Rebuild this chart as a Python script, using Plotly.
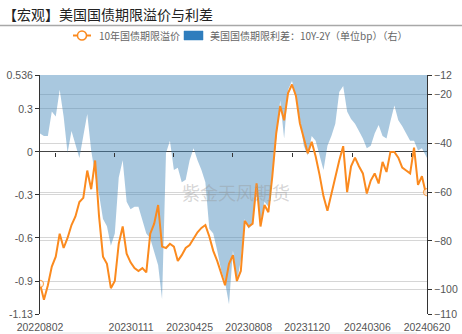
import pandas as pd
import plotly.graph_objects as go

# Weekly observation dates, closing on the last trading day shown
dates = list(pd.date_range("2022-08-02", periods=99, freq="7D").strftime("%Y-%m-%d")) + ["2024-06-20"]

# 10Y US Treasury term premium (%)
term_premium = [
    -0.92, -1.03, -0.93, -0.80, -0.73, -0.57, -0.67, -0.60, -0.51, -0.45,
    -0.35, -0.32, -0.13, -0.26, -0.06, -0.45, -0.73, -0.78, -0.95, -0.90,
    -0.64, -0.52, -0.71, -0.77, -0.81, -0.83, -0.81, -0.84, -0.57, -0.50,
    -0.37, -0.66, -0.67, -0.64, -0.66, -0.76, -0.72, -0.67, -0.65, -0.60,
    -0.56, -0.53, -0.51, -0.59, -0.69, -0.76, -0.85, -0.93, -0.78, -0.72,
    -0.90, -0.83, -0.48, -0.52, -0.50, -0.22, -0.52, -0.37, -0.42, -0.17,
    0.13, 0.32, 0.22, 0.41, 0.47, 0.39, 0.20, 0.10, -0.01, 0.07,
    -0.03, -0.16, -0.31, -0.41, -0.29, -0.17, -0.06, 0.04, -0.28, -0.10,
    -0.04, -0.10, -0.15, -0.29, -0.20, -0.15, -0.22, -0.07, -0.14, 0.00,
    0.00, -0.04, -0.11, -0.13, -0.15, 0.03, -0.23, -0.17, -0.29, -0.28,
]

# US Treasury 10Y-2Y spread (bp)
spread_10y2y = [
    -36, -37, -37, -27, -29, -18, -29, -44, -35, -41,
    -46, -37, -28, -43, -53, -61, -71, -74, -82, -77,
    -54, -47, -64, -67, -66, -66, -72, -77, -79, -85,
    -90, -104, -44, -39, -51, -50, -56, -55, -47, -42,
    -47, -51, -56, -75, -77, -84, -92, -97, -106, -84,
    -97, -88, -71, -75, -73, -59, -73, -64, -66, -54,
    -37, -22.5, -38, -18, -14.5, -21, -30, -41, -45, -37,
    -39, -45.5, -51, -41, -37, -32, -19, -16.5, -27, -30,
    -32, -35, -38, -42, -41, -36, -32.5, -37, -38, -31,
    -24.5, -30.6, -33, -36, -39, -39, -43, -42, -45.5, -46,
]

x_tick_dates = ["2022-08-02", "2023-01-11", "2023-04-25", "2023-08-08",
                "2023-11-20", "2024-03-06", "2024-06-20"]
x_tick_text = ["20220802", "20230111", "20230425", "20230808",
               "20231120", "20240306", "20240620"]
axis_mark_dates = ["2022-08-30", "2022-12-13", "2023-03-28", "2023-07-11",
                   "2023-10-24", "2024-02-08", "2024-05-24"]

left_ticks = [0.536, 0.3, 0, -0.3, -0.6, -0.9, -1.13]
left_tick_text = ["0.536", "0.3", "0", "-0.3", "-0.6", "-0.9", "-1.13"]
right_ticks = [-12, -20, -40, -60, -80, -100, -110]

title_text = "【宏观】美国国债期限溢价与利差"
tp_name = "10年国债期限溢价"
spread_name = "美国国债期限利差：10Y-2Y（单位bp）（右）"
watermark = "紫金天风期货"

FONT = "Noto Sans CJK SC"
NUM_FONT = "Liberation Sans"
ORANGE = "#fb8a1e"
AREA = "rgba(72,138,187,0.47)"
LEGEND_BLUE = "#2f7dbd"
GRID = "#d6d6d6"
AXIS = "#333333"

L_MIN, L_MAX = -1.13, 0.536

# plot-area geometry in pixels
W, H = 462, 334
ML, MR, MT, MB = 40, 35, 75, 20
PW, PH = W - ML - MR, H - MT - MB


def px(x):
    return (x - ML) / PW


def py(y):
    return (H - MB - y) / PH


fig = go.Figure()

# spread area, filled from the series up to the (off-range) zero level
fig.add_trace(go.Scatter(
    x=dates, y=spread_10y2y, xaxis="x", yaxis="y", name=spread_name,
    mode="lines", line=dict(width=0, color=AREA),
    fill="tozeroy", fillcolor=AREA, showlegend=False, hoverinfo="skip",
))

# term premium line, hollow markers on the end points only
n = len(term_premium)
sizes = [7] + [0] * (n - 2) + [7]
fig.add_trace(go.Scatter(
    x=dates, y=term_premium, xaxis="x2", yaxis="y2", name=tp_name,
    mode="lines+markers",
    line=dict(color=ORANGE, width=2),
    marker=dict(size=sizes, color="white", line=dict(color=ORANGE, width=1.3)),
    showlegend=False,
))

y_tick_font = dict(family=NUM_FONT, size=10.5, color="#555555")
x_tick_font = dict(family=NUM_FONT, size=10.5, color="#555555")

# legend row drawn as shapes + text
leg_y = 35.5
shapes = [
    dict(type="line", xref="paper", yref="paper",
         x0=px(0), x1=px(W), y0=py(25.5), y1=py(25.5),
         line=dict(color="#a8a8a8", width=1.5)),
    dict(type="line", xref="paper", yref="paper",
         x0=px(40), x1=px(417), y0=py(333), y1=py(333),
         line=dict(color="#e4e4e4", width=1)),
    dict(type="line", xref="paper", yref="paper",
         x0=px(73), x1=px(91), y0=py(leg_y), y1=py(leg_y),
         line=dict(color=ORANGE, width=2)),
    dict(type="circle", xref="paper", yref="paper",
         x0=px(77.5), x1=px(86.5), y0=py(leg_y - 4.5), y1=py(leg_y + 4.5),
         fillcolor="white", line=dict(color=ORANGE, width=1.5)),
    dict(type="rect", xref="paper", yref="paper",
         x0=px(184), x1=px(203), y0=py(leg_y - 4.5), y1=py(leg_y + 4.5),
         fillcolor=LEGEND_BLUE, line=dict(color=LEGEND_BLUE, width=0.5)),
]

annotations = [
    dict(text=title_text, xref="paper", yref="paper",
         x=px(1), y=py(14), xanchor="left", yanchor="middle",
         showarrow=False, font=dict(family=FONT, size=14, color="#222222")),
    dict(text=tp_name, xref="paper", yref="paper",
         x=px(97), y=py(leg_y), xanchor="left", yanchor="middle",
         showarrow=False, font=dict(family=FONT, size=10, color="#666666")),
    dict(text=spread_name, xref="paper", yref="paper",
         x=px(208), y=py(leg_y), xanchor="left", yanchor="middle",
         showarrow=False, font=dict(family=FONT, size=10, color="#666666")),
    dict(text=watermark, xref="paper", yref="paper",
         x=px(236), y=py(192), xanchor="center", yanchor="middle",
         showarrow=False, font=dict(family=FONT, size=18, color="rgba(150,150,150,0.4)")),
]

fig.update_layout(
    width=W, height=H,
    margin=dict(l=ML, r=MR, t=MT, b=MB, pad=0),
    paper_bgcolor="white", plot_bgcolor="white",
    font=dict(family=FONT, color="#555555"),
    showlegend=False,
    xaxis=dict(
        type="date", range=[dates[0], dates[-1]],
        tickmode="array", tickvals=x_tick_dates, ticktext=x_tick_text,
        tickfont=x_tick_font, showgrid=False, showline=False, ticks="",
        ticklabelstandoff=5,
        zeroline=False, anchor="y", automargin=False,
    ),
    xaxis2=dict(
        type="date", overlaying="x", matches="x", anchor="free",
        position=(0 - L_MIN) / (L_MAX - L_MIN),
        tickmode="array", tickvals=axis_mark_dates, showticklabels=False,
        ticks="outside", ticklen=4, tickcolor=AXIS, tickwidth=1,
        showgrid=False, showline=False, zeroline=False, automargin=False,
    ),
    yaxis=dict(
        side="right", range=[-110, -12],
        tickmode="array", tickvals=right_ticks, tickfont=y_tick_font,
        showgrid=True, gridcolor=GRID, gridwidth=1,
        showline=True, linecolor=AXIS, linewidth=1,
        ticks="outside", ticklen=4, tickcolor=AXIS,
        zeroline=False, anchor="x", automargin=False,
    ),
    yaxis2=dict(
        side="left", overlaying="y", range=[L_MIN, L_MAX],
        tickmode="array", tickvals=left_ticks, ticktext=left_tick_text,
        tickfont=y_tick_font,
        showgrid=True, gridcolor=GRID, gridwidth=1,
        zeroline=True, zerolinecolor="#444444", zerolinewidth=1,
        showline=True, linecolor=AXIS, linewidth=1,
        ticks="outside", ticklen=4, tickcolor=AXIS, anchor="x", automargin=False,
    ),
    annotations=annotations,
    shapes=shapes,
)

fig.write_html("out.html")
